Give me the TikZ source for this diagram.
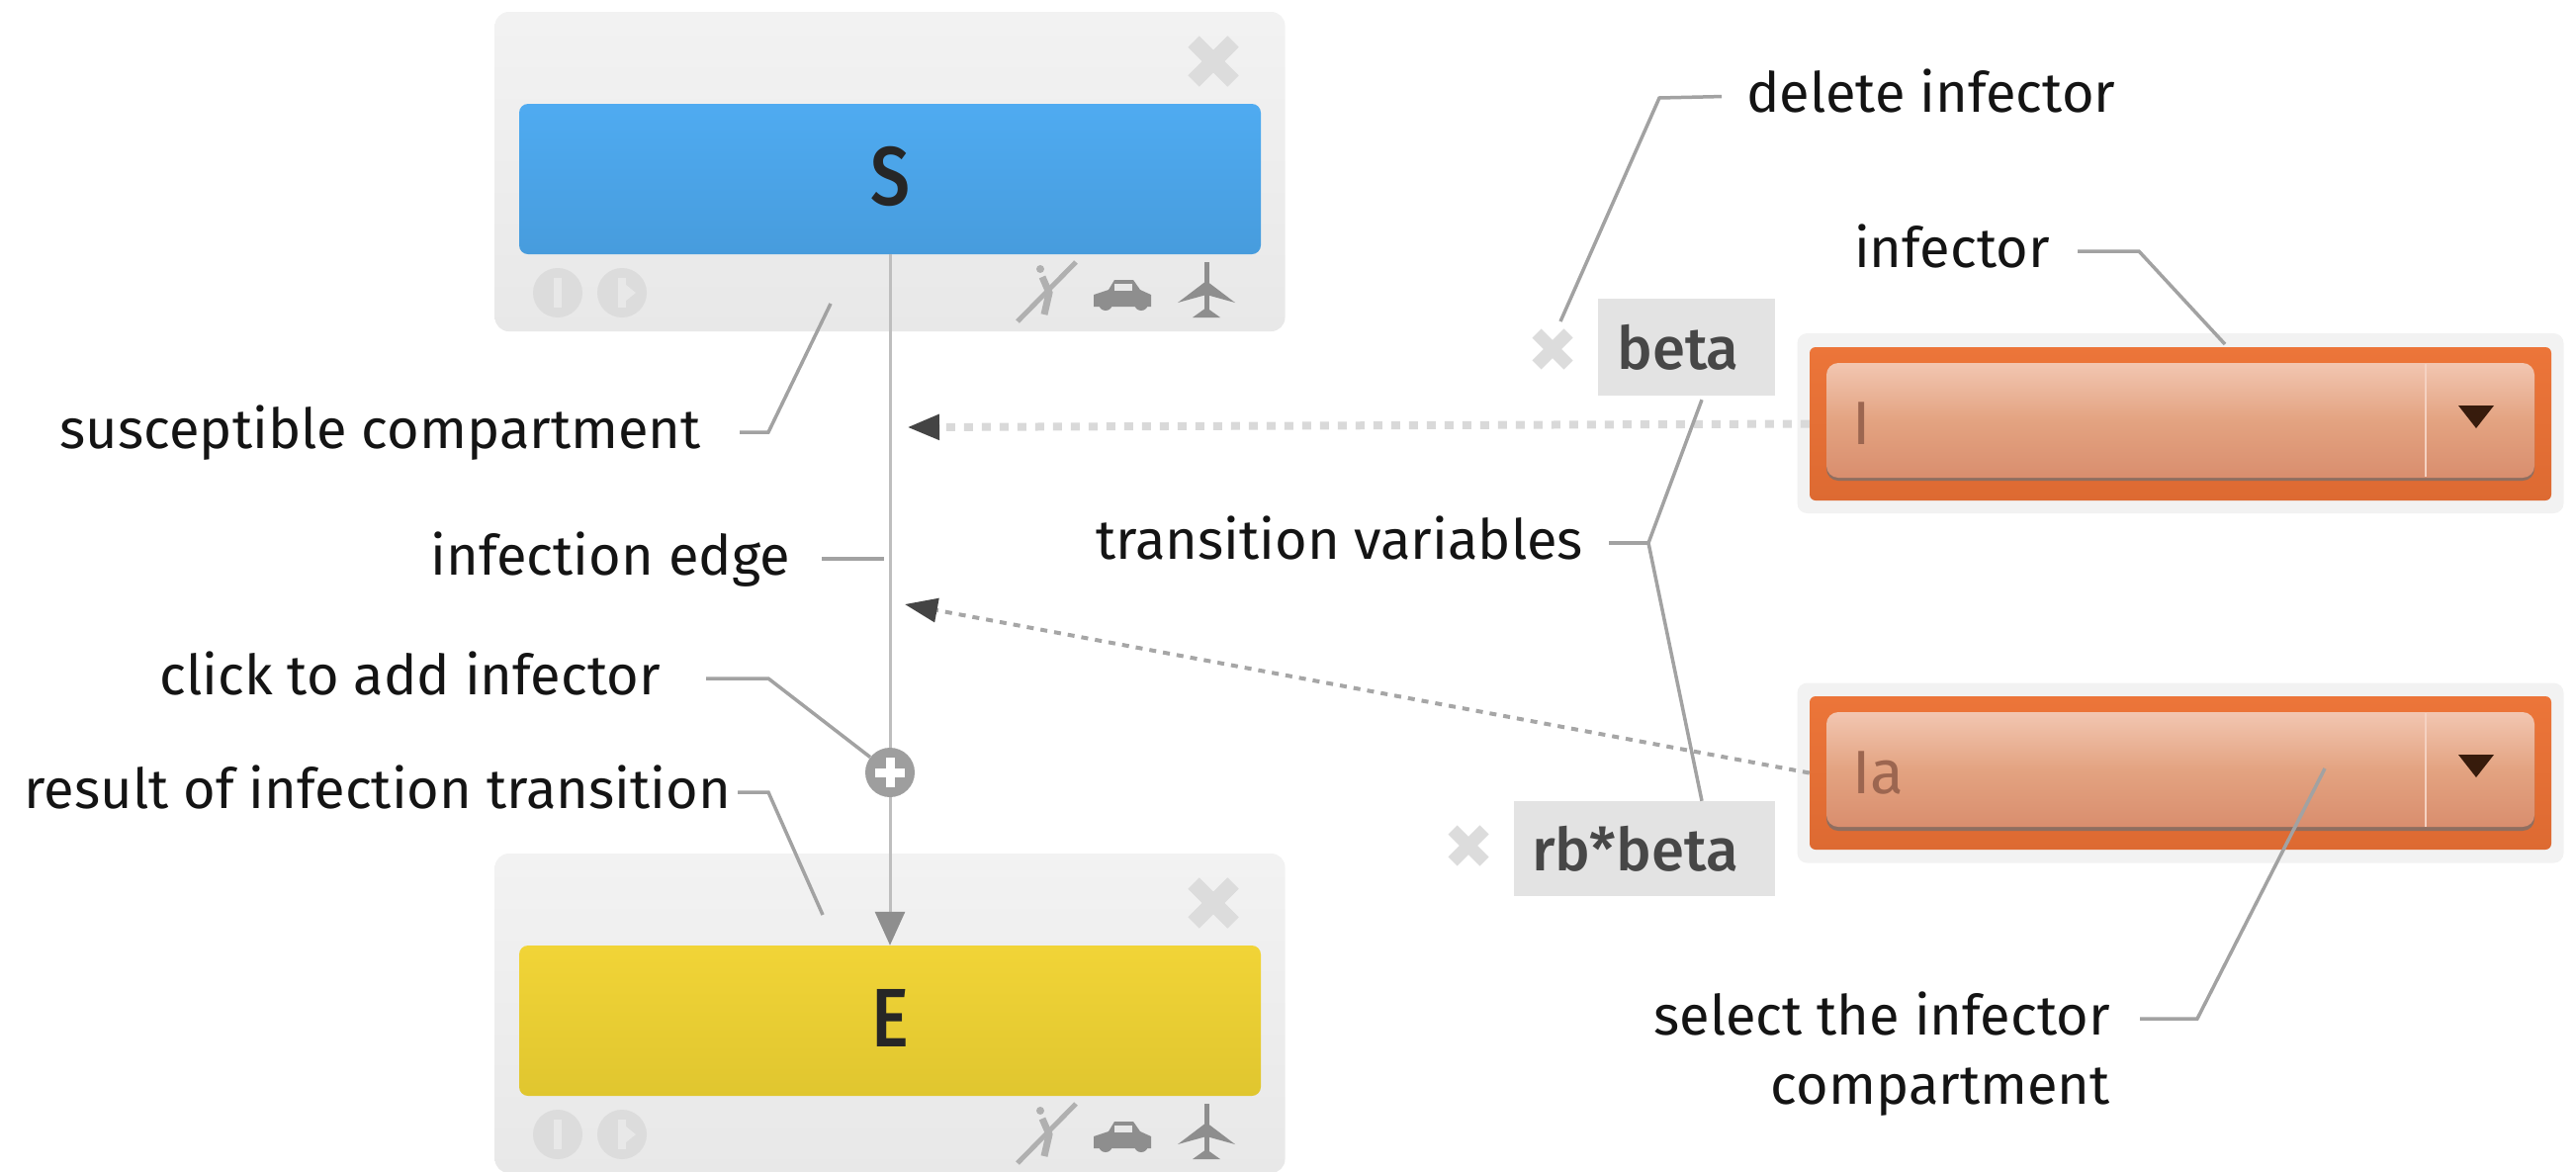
\documentclass[tikz,border=0pt]{standalone}
\usepackage{fontspec}
\usepackage{graphicx}
\setmainfont{Fira Sans}
\newfontfamily\medfont{Fira Sans Medium}
\usepackage{xcolor}
\usetikzlibrary{positioning, arrows.meta}
\definecolor{leadgray}{HTML}{A2A2A2}
\definecolor{edgegray}{HTML}{BEBEBE}
\definecolor{icongray}{HTML}{8E8E8E}
\definecolor{palegray}{HTML}{DCDCDC}
\definecolor{tipdark}{HTML}{444444}
\definecolor{orange1}{HTML}{EC7539}
\definecolor{orange2}{HTML}{DD6A32}
\definecolor{btntop}{HTML}{F2C6B1}
\definecolor{btnmid}{HTML}{E3A381}
\definecolor{btnbot}{HTML}{D98E6E}
\definecolor{btnedge}{HTML}{8F6E60}
\definecolor{seltxt}{HTML}{9C6650}
\definecolor{blue1}{HTML}{4FABF1}
\definecolor{blue2}{HTML}{479CDD}
\definecolor{yellow1}{HTML}{F1D437}
\definecolor{yellow2}{HTML}{E0C62F}
\tikzset{
  lbl/.style={inner sep=0pt, text height=42pt, text depth=9pt, text=black!92, font=\fontsize{56}{60}\selectfont},
  leader/.style={draw=leadgray, line width=3.5pt},
  cbox/.style={rounded corners=14pt, minimum width=799pt, minimum height=323pt, top color=black!5, bottom color=black!9},
  cbar/.style={rounded corners=9pt, minimum width=750pt, minimum height=152pt, text depth=6pt, text=black!85, font=\medfont\fontsize{84}{84}\selectfont},
  halo/.style={rounded corners=10pt, fill=black!5, minimum width=775pt, minimum height=182pt},
  obox/.style={rounded corners=6pt, top color=orange1, bottom color=orange2, minimum width=750pt, minimum height=155pt},
  obtn/.style={rounded corners=12pt, minimum width=716pt, minimum height=116pt, top color=btntop, bottom color=btnbot, middle color=btnmid},
  varbox/.style={fill=black!11, text=black!72, inner sep=0pt, font=\medfont\fontsize{60}{60}\selectfont},
  seltext/.style={inner sep=0pt, anchor=base west, text=seltxt, font=\fontsize{62}{62}\selectfont},
}
\begin{document}
\begin{tikzpicture}[x=1pt, y=-1pt]
  \useasboundingbox (0,0) rectangle (2605,1184);
  % Compartments
  \node[cbox] (boxS) at (900,173.5) {};
  \node[cbox] (boxE) at (900,1024.5) {};
  \node[cbar, top color=blue1, bottom color=blue2] (barS) at (900,181) {\scalebox{.85}[1]{S}};
  \node[cbar, top color=yellow1, bottom color=yellow2] (barE) at (900,1032) {\scalebox{.85}[1]{E}};
  % Icons of both compartments
  \foreach \dy in {0,851} {
    \begin{scope}[yshift=-\dy pt]
      \fill[palegray] (564,296) circle (25);
      \fill[palegray] (629,296) circle (25);
      \fill[black!9] (560,281) rectangle (568,311);
      \fill[black!9] (625,281) rectangle (633,311);
      \fill[black!9] (633,288) -- (643,296) -- (633,304) -- cycle;
      % walker crossed out
      \draw[icongray!70, line width=5pt] (1029,325) -- (1088,265);
      \draw[icongray!70, line width=7pt] (1056,318) -- (1061,296) -- (1054,280);
      \fill[icongray!70] (1052,272) circle (4);
      % car
      \fill[icongray] (1106,310) -- (1106,298) -- (1121,293) -- (1127,283) -- (1146,283) -- (1153,293) -- (1164,298) -- (1164,310) -- cycle;
      \fill[black!9] (1127,287) rectangle (1145,294);
      \fill[icongray] (1118,307) circle (7);
      \fill[icongray] (1154,307) circle (7);
      % plane
      \draw[icongray, line width=5pt] (1220,265) -- (1220,318);
      \fill[icongray] (1191,306) -- (1220,284) -- (1249,306) -- (1220,298) -- cycle;
      \fill[icongray] (1206,321) -- (1220,311) -- (1234,321) -- cycle;
    \end{scope}
  }
  % Crosses
  \foreach \cx/\cy/\cs/\cw in {1227/62/20/16, 1227/913/20/16, 1570/353/16/13, 1485/855/16/13} {
    \draw[palegray, line width=\cw pt] (\cx-\cs,\cy-\cs) -- (\cx+\cs,\cy+\cs);
    \draw[palegray, line width=\cw pt] (\cx-\cs,\cy+\cs) -- (\cx+\cs,\cy-\cs);
  }
  % Variables
  \node[varbox, minimum width=179pt, minimum height=98pt] (varBeta) at (1705.5,351) {beta\hspace*{17pt}};
  \node[varbox, minimum width=264pt, minimum height=96pt] (varRb) at (1663,858) {rb*beta\hspace*{19pt}};
  % Infector selectors
  \node[halo] (haloI) at (2205,428) {};
  \node[obox] (selI) at (2205,428.5) {};
  \fill[btnedge, rounded corners=12pt] (1847,372) rectangle (2563,486);
  \node[obtn] (btnI) at (2205,425) {};
  \draw[white!70!orange2, line width=2pt] (2453,368) -- (2453,482);
  \fill[black!75!orange2] (2486,410) -- (2522,410) -- (2504,433) -- cycle;
  \node[seltext] (txtI) at (1873,449) {I};
  \node[halo] (haloIa) at (2205,781.5) {};
  \node[obox] (selIa) at (2205,781.5) {};
  \fill[btnedge, rounded corners=12pt] (1847,725) rectangle (2563,840);
  \node[obtn] (btnIa) at (2205,778) {};
  \draw[white!70!orange2, line width=2pt] (2453,721) -- (2453,836);
  \fill[black!75!orange2] (2486,763) -- (2522,763) -- (2504,786) -- cycle;
  \node[seltext] (txtIa) at (1873,802) {Ia};
  % Infection edge
  \draw[edgegray, line width=3pt, -{Triangle[length=34pt, width=30pt, color=icongray]}] (barS.south) -- (barE.north);
  \node[circle, fill=black!38, minimum size=50pt, inner sep=0pt] (addBtn) at (900,781) {};
  \draw[white, line width=9pt] ([xshift=-15pt]addBtn.center) -- ([xshift=15pt]addBtn.center);
  \draw[white, line width=9pt] ([yshift=-15pt]addBtn.center) -- ([yshift=15pt]addBtn.center);
  % Infector links
  \coordinate (tipI) at (917,432);
  \coordinate (tipIa) at (915,611);
  \draw[black!15, line width=8pt, dash pattern=on 9pt off 9pt, -{Triangle[length=33pt, width=24pt, color=tipdark]}] (selI.west) -- (tipI);
  \draw[black!35, line width=4pt, dash pattern=on 7pt off 7pt, -{Triangle[length=33pt, width=24pt, color=tipdark]}] (selIa.west) -- (tipIa);
  % Labels on the left
  \node[lbl, anchor=east] (lblSus) at (709,437) {susceptible compartment};
  \node[lbl, anchor=east] (lblEdge) at (799,565) {infection edge};
  \node[lbl, anchor=east] (lblClick) at (668,686) {click to add infector};
  \node[lbl, anchor=east] (lblResult) at (739,801) {result of infection transition};
  % Labels on the right
  \node[lbl, anchor=west] (lblDelete) at (1766,97) {delete infector};
  \node[lbl, anchor=east] (lblInfector) at (2073,254) {infector};
  \node[lbl, anchor=east] (lblVars) at (1601,549) {transition variables};
  \node[lbl, anchor=east] (lblSelect) at (2134,1030) {select the infector};
  \node[lbl, anchor=east] (lblComp) at (2134,1100) {compartment};
  % Leaders
  \coordinate (kneeSus) at (777,437);
  \coordinate (endSus) at (840,307);
  \coordinate (endEdge) at (894,565);
  \coordinate (kneeClick) at (777,686);
  \coordinate (kneeResult) at (777,801);
  \coordinate (endResult) at (832,925);
  \coordinate (kneeDelete) at (1678,99);
  \coordinate (endDelete) at (1578,325);
  \coordinate (kneeInfector) at (2163,254);
  \coordinate (endInfector) at (2250,348);
  \coordinate (kneeVars) at (1667,549);
  \coordinate (kneeSelect) at (2222,1030);
  \coordinate (endSelect) at (2351,777);
  \draw[leader, shorten <=39pt] (lblSus.east) -- (kneeSus) -- (endSus);
  \draw[leader, shorten <=32pt] (lblEdge.east) -- (endEdge);
  \draw[leader, shorten <=46pt] (lblClick.east) -- (kneeClick) -- (addBtn);
  \draw[leader, shorten <=7pt] (lblResult.east) -- (kneeResult) -- (endResult);
  \draw[leader, shorten <=25pt] (lblDelete.west) -- (kneeDelete) -- (endDelete);
  \draw[leader, shorten <=28pt] (lblInfector.east) -- (kneeInfector) -- (endInfector);
  \draw[leader, shorten <=26pt] (lblVars.east) -- (kneeVars);
  \draw[leader] ([xshift=15.5pt,yshift=-4pt]varBeta.south) -- (kneeVars) -- ([xshift=58pt]varRb.north);
  \draw[leader, shorten <=30pt] (lblSelect.east) -- (kneeSelect) -- (endSelect);
\end{tikzpicture}
\end{document}
